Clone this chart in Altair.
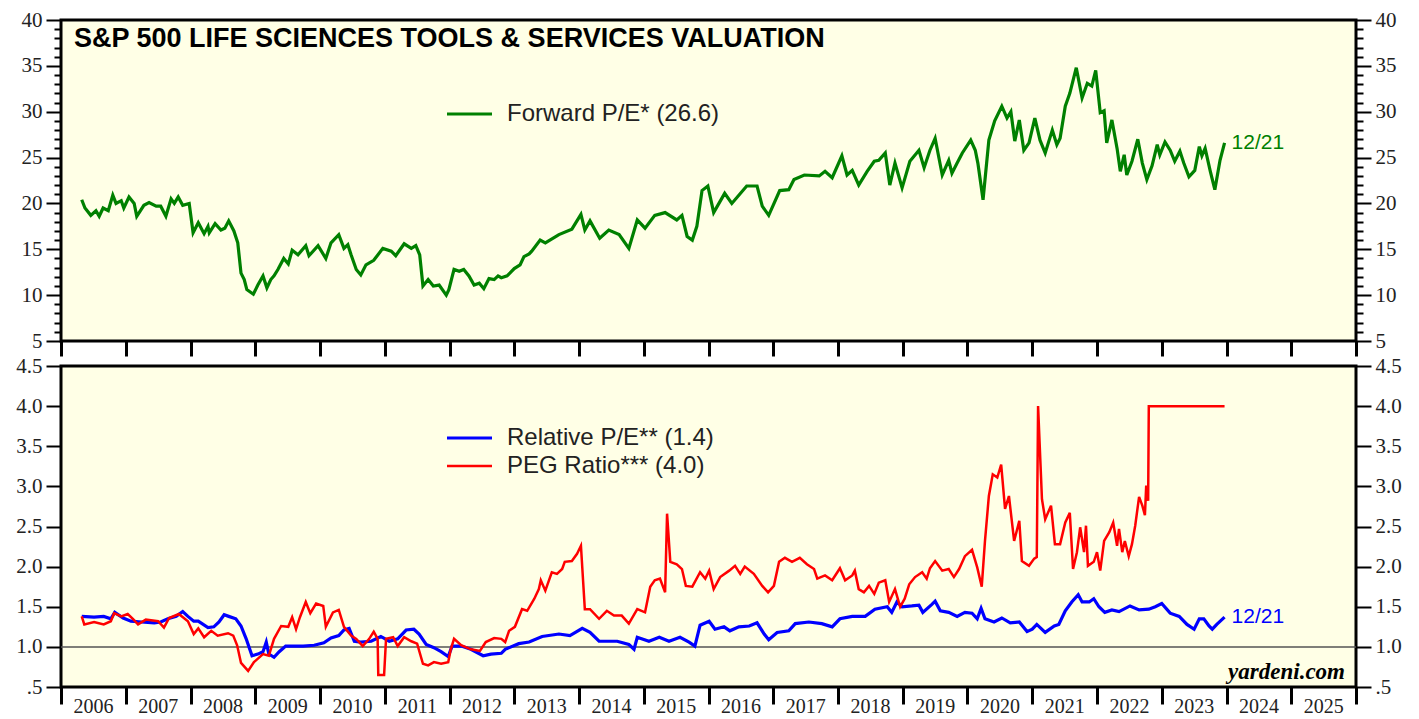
import altair as alt
import pandas as pd

# ---------------- data ----------------
fwd_year = [2006.32, 2006.37, 2006.46, 2006.54, 2006.59, 2006.65, 2006.73, 2006.80, 2006.85, 2006.93,
            2006.97, 2007.05, 2007.13, 2007.17, 2007.28, 2007.36, 2007.47, 2007.54, 2007.62, 2007.70,
            2007.75, 2007.81, 2007.88, 2007.98, 2008.04, 2008.12, 2008.21, 2008.27, 2008.29, 2008.38,
            2008.47, 2008.53, 2008.59, 2008.67, 2008.73, 2008.78, 2008.83, 2008.87, 2008.97, 2009.04,
            2009.12, 2009.18, 2009.24, 2009.29, 2009.35, 2009.44, 2009.51, 2009.57, 2009.66, 2009.78,
            2009.83, 2009.97, 2010.09, 2010.17, 2010.29, 2010.37, 2010.43, 2010.48, 2010.56, 2010.63,
            2010.71, 2010.83, 2010.97, 2011.10, 2011.17, 2011.30, 2011.41, 2011.48, 2011.54, 2011.59,
            2011.67, 2011.75, 2011.84, 2011.95, 2011.99, 2012.07, 2012.15, 2012.22, 2012.30, 2012.38,
            2012.46, 2012.53, 2012.61, 2012.69, 2012.75, 2012.80, 2012.89, 2013.00, 2013.09, 2013.15,
            2013.23, 2013.27, 2013.40, 2013.48, 2013.69, 2013.89, 2014.03, 2014.09, 2014.17, 2014.32,
            2014.46, 2014.62, 2014.77, 2014.90, 2015.02, 2015.17, 2015.33, 2015.51, 2015.59, 2015.67,
            2015.75, 2015.82, 2015.90, 2015.99, 2016.08, 2016.25, 2016.36, 2016.59, 2016.75, 2016.83,
            2016.93, 2017.10, 2017.24, 2017.32, 2017.48, 2017.71, 2017.80, 2017.91, 2018.06, 2018.14,
            2018.22, 2018.32, 2018.45, 2018.56, 2018.63, 2018.73, 2018.80, 2018.88, 2018.99, 2019.11,
            2019.25, 2019.33, 2019.42, 2019.50, 2019.61, 2019.71, 2019.76, 2019.84, 2019.92, 2020.05,
            2020.12, 2020.16, 2020.24, 2020.33, 2020.42, 2020.53, 2020.61, 2020.67, 2020.73, 2020.80,
            2020.87, 2020.95, 2021.04, 2021.12, 2021.20, 2021.31, 2021.38, 2021.43, 2021.51, 2021.58,
            2021.68, 2021.77, 2021.85, 2021.92, 2021.98, 2022.05, 2022.11, 2022.15, 2022.23, 2022.31,
            2022.36, 2022.42, 2022.46, 2022.54, 2022.63, 2022.70, 2022.77, 2022.85, 2022.93, 2022.97,
            2023.05, 2023.13, 2023.20, 2023.28, 2023.34, 2023.42, 2023.51, 2023.58, 2023.62, 2023.67,
            2023.75, 2023.82, 2023.90, 2023.97]
fwd_pe = [20.4, 19.5, 18.7, 19.2, 18.6, 19.5, 19.2, 20.9, 20.0, 20.3,
          19.5, 20.7, 20.0, 18.6, 19.8, 20.1, 19.7, 19.7, 18.6, 20.5,
          20.0, 20.7, 19.8, 20.0, 16.8, 17.9, 16.7, 17.5, 16.8, 17.8,
          17.1, 17.3, 18.1, 17.0, 15.7, 12.4, 11.7, 10.6, 10.1, 11.1,
          12.1, 10.8, 11.7, 12.1, 12.8, 14.0, 13.4, 14.9, 14.4, 15.4,
          14.3, 15.4, 14.0, 15.7, 16.6, 15.1, 15.5, 14.4, 12.8, 12.2,
          13.3, 13.8, 15.1, 14.8, 14.3, 15.6, 15.1, 15.4, 14.4, 11.0,
          11.7, 11.0, 11.1, 10.0, 10.6, 12.8, 12.6, 12.8, 12.1, 11.1,
          11.3, 10.7, 11.8, 11.7, 12.1, 11.9, 12.1, 12.9, 13.3, 14.2,
          14.5, 14.8, 16.0, 15.7, 16.6, 17.2, 18.8, 17.1, 18.1, 16.2,
          17.1, 16.6, 15.1, 18.2, 17.3, 18.7, 19.0, 18.2, 18.7, 16.4,
          16.0, 17.5, 21.4, 21.9, 19.0, 21.1, 20.0, 21.9, 21.9, 19.7,
          18.7, 21.4, 21.5, 22.6, 23.1, 23.0, 23.5, 22.8, 25.2, 23.1,
          23.6, 22.0, 23.5, 24.6, 24.7, 25.5, 22.0, 24.4, 21.7, 24.6,
          25.8, 23.9, 25.8, 27.1, 23.1, 24.7, 23.3, 24.4, 25.5, 26.9,
          25.8, 24.4, 20.4, 26.9, 29.0, 30.6, 29.3, 30.0, 26.8, 29.1,
          25.8, 26.6, 29.3, 26.9, 25.5, 28.0, 26.4, 27.1, 30.6, 32.0,
          34.8, 31.5, 33.1, 32.8, 34.5, 29.9, 30.1, 26.6, 29.1, 26.0,
          23.5, 25.3, 23.1, 24.6, 27.0, 24.4, 22.6, 24.1, 26.4, 25.3,
          26.7, 25.8, 24.6, 25.7, 24.4, 22.9, 23.6, 26.2, 25.2, 26.0,
          23.5, 21.5, 24.7, 26.6]

rel_year = [2006.32, 2006.51, 2006.66, 2006.77, 2006.83, 2006.96, 2007.08, 2007.24, 2007.44, 2007.54,
            2007.65, 2007.78, 2007.88, 2007.96, 2008.05, 2008.12, 2008.27, 2008.36, 2008.44, 2008.52,
            2008.59, 2008.70, 2008.78, 2008.86, 2008.95, 2009.04, 2009.12, 2009.17, 2009.21, 2009.29,
            2009.37, 2009.47, 2009.60, 2009.74, 2009.91, 2010.06, 2010.17, 2010.29, 2010.37, 2010.45,
            2010.53, 2010.63, 2010.79, 2010.94, 2011.07, 2011.20, 2011.33, 2011.45, 2011.53, 2011.64,
            2011.76, 2011.87, 2011.98, 2012.04, 2012.18, 2012.33, 2012.52, 2012.64, 2012.80, 2012.86,
            2013.07, 2013.23, 2013.43, 2013.69, 2013.86, 2014.05, 2014.17, 2014.31, 2014.43, 2014.59,
            2014.77, 2014.85, 2014.90, 2015.08, 2015.24, 2015.39, 2015.56, 2015.70, 2015.79, 2015.87,
            2016.01, 2016.10, 2016.24, 2016.33, 2016.47, 2016.63, 2016.75, 2016.86, 2016.93, 2017.06,
            2017.24, 2017.34, 2017.55, 2017.75, 2017.91, 2018.03, 2018.22, 2018.42, 2018.57, 2018.76,
            2018.83, 2018.91, 2018.99, 2019.14, 2019.25, 2019.31, 2019.45, 2019.50, 2019.58, 2019.71,
            2019.84, 2019.96, 2020.07, 2020.15, 2020.21, 2020.27, 2020.41, 2020.53, 2020.66, 2020.80,
            2020.92, 2021.00, 2021.07, 2021.20, 2021.34, 2021.41, 2021.51, 2021.61, 2021.71, 2021.77,
            2021.88, 2021.95, 2022.03, 2022.12, 2022.23, 2022.34, 2022.51, 2022.65, 2022.80, 2022.90,
            2023.00, 2023.13, 2023.27, 2023.39, 2023.50, 2023.58, 2023.65, 2023.73, 2023.78, 2023.85,
            2023.97]
rel_pe = [1.38, 1.37, 1.38, 1.35, 1.43, 1.36, 1.32, 1.31, 1.30, 1.31,
          1.35, 1.38, 1.44, 1.38, 1.32, 1.32, 1.24, 1.25, 1.31, 1.40,
          1.38, 1.35, 1.26, 1.10, 0.89, 0.91, 0.94, 1.06, 0.91, 0.87,
          0.94, 1.01, 1.01, 1.01, 1.02, 1.05, 1.11, 1.14, 1.21, 1.23,
          1.07, 1.06, 1.07, 1.13, 1.07, 1.10, 1.21, 1.22, 1.16, 1.03,
          0.99, 0.94, 0.88, 1.01, 1.01, 0.97, 0.89, 0.91, 0.92, 0.97,
          1.04, 1.06, 1.13, 1.16, 1.14, 1.23, 1.18, 1.07, 1.07, 1.07,
          1.03, 0.97, 1.12, 1.07, 1.12, 1.07, 1.12, 1.06, 1.01, 1.27,
          1.32, 1.22, 1.25, 1.20, 1.25, 1.26, 1.30, 1.16, 1.09, 1.18,
          1.20, 1.29, 1.31, 1.29, 1.25, 1.35, 1.38, 1.38, 1.47, 1.50,
          1.43, 1.56, 1.50, 1.51, 1.52, 1.43, 1.53, 1.57, 1.45, 1.43,
          1.38, 1.43, 1.42, 1.35, 1.48, 1.35, 1.31, 1.36, 1.30, 1.31,
          1.19, 1.22, 1.28, 1.18, 1.26, 1.28, 1.45, 1.56, 1.65, 1.56,
          1.56, 1.60, 1.50, 1.43, 1.46, 1.44, 1.51, 1.46, 1.47, 1.50,
          1.54, 1.42, 1.38, 1.28, 1.22, 1.35, 1.35, 1.26, 1.22, 1.28,
          1.37]

peg_year = [2006.32, 2006.36, 2006.51, 2006.66, 2006.77, 2006.82, 2006.93, 2007.03, 2007.11, 2007.19,
            2007.31, 2007.50, 2007.59, 2007.67, 2007.82, 2007.96, 2008.05, 2008.12, 2008.21, 2008.32,
            2008.42, 2008.58, 2008.66, 2008.72, 2008.78, 2008.89, 2008.98, 2009.12, 2009.21, 2009.29,
            2009.40, 2009.51, 2009.57, 2009.63, 2009.69, 2009.78, 2009.85, 2009.94, 2010.05, 2010.09,
            2010.20, 2010.29, 2010.37, 2010.48, 2010.56, 2010.66, 2010.76, 2010.83, 2010.89, 2010.90,
            2010.99, 2011.02, 2011.13, 2011.20, 2011.30, 2011.41, 2011.50, 2011.59, 2011.67, 2011.76,
            2011.87, 2011.98, 2012.02, 2012.07, 2012.18, 2012.33, 2012.47, 2012.56, 2012.69, 2012.80,
            2012.86, 2012.92, 2013.01, 2013.12, 2013.20, 2013.31, 2013.38, 2013.41, 2013.48, 2013.58,
            2013.66, 2013.74, 2013.78, 2013.89, 2013.97, 2014.03, 2014.09, 2014.17, 2014.31, 2014.43,
            2014.54, 2014.66, 2014.77, 2014.90, 2015.02, 2015.10, 2015.17, 2015.25, 2015.33, 2015.36,
            2015.41, 2015.51, 2015.59, 2015.65, 2015.75, 2015.87, 2015.95, 2016.01, 2016.08, 2016.18,
            2016.32, 2016.41, 2016.49, 2016.56, 2016.70, 2016.83, 2016.92, 2017.01, 2017.09, 2017.18,
            2017.29, 2017.41, 2017.52, 2017.63, 2017.68, 2017.80, 2017.91, 2018.03, 2018.11, 2018.22,
            2018.26, 2018.32, 2018.40, 2018.48, 2018.56, 2018.63, 2018.73, 2018.79, 2018.88, 2018.96,
            2019.03, 2019.10, 2019.19, 2019.30, 2019.37, 2019.42, 2019.50, 2019.61, 2019.71, 2019.79,
            2019.87, 2019.96, 2020.07, 2020.15, 2020.22, 2020.27, 2020.33, 2020.39, 2020.46, 2020.52,
            2020.58, 2020.64, 2020.72, 2020.80, 2020.84, 2020.95, 2021.03, 2021.07, 2021.09, 2021.15,
            2021.20, 2021.29, 2021.35, 2021.43, 2021.51, 2021.58, 2021.63, 2021.69, 2021.74, 2021.80,
            2021.83, 2021.86, 2021.95, 2022.00, 2022.05, 2022.11, 2022.19, 2022.25, 2022.31, 2022.34,
            2022.39, 2022.43, 2022.49, 2022.54, 2022.59, 2022.65, 2022.70, 2022.74, 2022.76, 2022.79,
            2022.80, 2023.97]
peg = [1.38, 1.28, 1.31, 1.28, 1.32, 1.42, 1.38, 1.41, 1.35, 1.28,
       1.34, 1.32, 1.24, 1.36, 1.41, 1.32, 1.16, 1.23, 1.12, 1.20,
       1.14, 1.17, 1.14, 1.02, 0.80, 0.70, 0.81, 0.91, 0.89, 1.10,
       1.26, 1.25, 1.37, 1.22, 1.37, 1.56, 1.42, 1.54, 1.51, 1.25,
       1.43, 1.46, 1.25, 1.14, 1.10, 1.01, 1.10, 1.19, 1.10, 0.65,
       0.65, 1.10, 1.12, 1.01, 1.12, 1.07, 1.04, 0.79, 0.77, 0.81,
       0.79, 0.81, 0.97, 1.10, 1.02, 0.97, 0.95, 1.06, 1.11, 1.10,
       1.06, 1.20, 1.25, 1.47, 1.45, 1.60, 1.72, 1.83, 1.70, 1.93,
       1.91, 1.97, 2.06, 2.07, 2.16, 2.26, 1.47, 1.47, 1.35, 1.45,
       1.39, 1.39, 1.29, 1.47, 1.43, 1.75, 1.83, 1.85, 1.68, 2.66,
       2.06, 2.03, 1.97, 1.76, 1.75, 1.93, 1.85, 1.95, 1.72, 1.87,
       1.95, 2.01, 1.91, 2.00, 1.91, 1.76, 1.68, 1.76, 2.06, 2.11,
       2.06, 2.11, 2.03, 1.97, 1.85, 1.89, 1.83, 1.98, 1.83, 1.89,
       1.95, 1.72, 1.68, 1.76, 1.66, 1.80, 1.83, 1.56, 1.72, 1.50,
       1.60, 1.78, 1.87, 1.93, 1.85, 1.98, 2.07, 1.95, 1.97, 1.87,
       1.97, 2.13, 2.21, 1.99, 1.75, 2.32, 2.88, 3.15, 3.11, 3.27,
       2.72, 2.88, 2.32, 2.57, 2.07, 2.01, 2.10, 2.12, 4.00, 2.84,
       2.59, 2.76, 2.28, 2.28, 2.55, 2.67, 1.97, 2.18, 2.49, 2.18,
       2.51, 2.01, 2.06, 2.18, 1.95, 2.32, 2.43, 2.55, 2.26, 2.47,
       2.18, 2.32, 2.13, 2.28, 2.51, 2.87, 2.76, 2.64, 3.01, 2.82,
       4.00, 4.00]

TITLE = ["S&P 500 LIFE SCIENCES TOOLS & SERVICES VALUATION"]
LEGEND_TOP = ["Forward P/E* (26.6)"]
LEGEND_BOTTOM = ["Relative P/E** (1.4)", "PEG Ratio*** (4.0)"]
LAST_DATE = "12/21"
SOURCE = ["yardeni.com"]
YEARS = list(range(2006, 2027))
TOP_TICKS = list(range(5, 41))
BOTTOM_TICKS = [0.5, 1.0, 1.5, 2.0, 2.5, 3.0, 3.5, 4.0, 4.5]
REF_LEVEL = [1.0]

GREEN, BLUE, RED = "#008000", "#0000FF", "#FF0000"
SERIF, SANS = "Liberation Serif", "Liberation Sans"
W, H = 1295, 321

fwd_df = pd.DataFrame({"year": fwd_year, "value": fwd_pe})
rel_df = pd.DataFrame({"year": rel_year, "value": rel_pe})
peg_df = pd.DataFrame({"year": peg_year, "value": peg})
fwd_last = fwd_df.tail(1).assign(label=LAST_DATE)
rel_last = rel_df.tail(1).assign(label=LAST_DATE)
ref_df = pd.DataFrame({"value": REF_LEVEL})

xscale = alt.Scale(domain=[2006, 2026], nice=False, zero=False)
x_top = alt.X("year:Q", scale=xscale, title=None,
              axis=alt.Axis(values=YEARS, labels=False, tickSize=15, tickWidth=3,
                            tickColor="black", domain=False, grid=False))
x_bot = alt.X("year:Q", scale=xscale, title=None,
              axis=alt.Axis(values=YEARS, format="d",
                            labelExpr="datum.value >= 2026 ? '' : format(datum.value, 'd')",
                            labelOffset=32, labelPadding=-8, tickSize=17, tickWidth=3,
                            tickColor="black", domain=False, grid=False,
                            labelFont=SERIF, labelFontSize=20, labelColor="#222",
                            labelFlush=False, labelOverlap=False, labelBound=False))


def y_axis_top(orient):
    extra = {"minExtent": 51, "maxExtent": 51} if orient == "left" else {}
    return alt.Axis(orient=orient, values=TOP_TICKS,
                    labelExpr="datum.value % 5 == 0 ? format(datum.value, 'd') : ''",
                    tickSize=alt.condition("datum.value % 5 == 0", alt.value(15), alt.value(7)),
                    tickWidth=2, tickColor="black", domain=False, grid=False,
                    labelFont=SERIF, labelFontSize=21, labelColor="#222", labelPadding=4,
                    labelFlush=False, labelOverlap=False, labelBound=False, **extra)


def y_axis_bot(orient):
    extra = {"minExtent": 51, "maxExtent": 51} if orient == "left" else {}
    return alt.Axis(orient=orient, values=BOTTOM_TICKS,
                    labelExpr="datum.value == 0.5 ? '.5' : format(datum.value, '.1f')",
                    tickSize=15, tickWidth=2, tickColor="black", domain=False, grid=False,
                    labelFont=SERIF, labelFontSize=21, labelColor="#222", labelPadding=4,
                    labelFlush=False, labelOverlap=False, labelBound=False, **extra)


ys_top = alt.Scale(domain=[5, 40], nice=False, zero=False)
ys_bot = alt.Scale(domain=[0.5, 4.5], nice=False, zero=False)

# ---------------- top panel ----------------
top_line = alt.Chart(fwd_df).mark_line(color=GREEN, strokeWidth=3.2).encode(
    x=x_top, y=alt.Y("value:Q", scale=ys_top, title=None, axis=y_axis_top("left")))
top_label = alt.Chart(fwd_last).mark_text(align="left", baseline="middle", dx=7, font=SANS,
                                          fontSize=21, color=GREEN).encode(
    x=x_top, y=alt.Y("value:Q", scale=ys_top, title=None, axis=y_axis_top("right")),
    text="label:N")
title = alt.Chart(pd.DataFrame({"t": TITLE})).mark_text(
    align="left", baseline="middle", font=SANS, fontSize=27, fontWeight="bold", color="black").encode(
    x=alt.value(13), y=alt.value(19), text="t:N")
leg_top_rule = alt.Chart(pd.DataFrame({"t": LEGEND_TOP})).mark_rule(color=GREEN, strokeWidth=3).encode(
    x=alt.value(386), x2=alt.value(431), y=alt.value(94))
leg_top_text = alt.Chart(pd.DataFrame({"t": LEGEND_TOP})).mark_text(
    align="left", baseline="middle", font=SANS, fontSize=24, color="#222").encode(
    x=alt.value(446), y=alt.value(94), text="t:N")

top = alt.layer(top_line, top_label, title, leg_top_rule, leg_top_text).resolve_scale(
    y="independent").properties(width=W, height=H)

# ---------------- bottom panel ----------------
y_bl = alt.Y("value:Q", scale=ys_bot, title=None, axis=y_axis_bot("left"))
ref_rule = alt.Chart(ref_df).mark_rule(color="#555555", strokeWidth=1.5).encode(y=y_bl)
blue_line = alt.Chart(rel_df).mark_line(color=BLUE, strokeWidth=3.2).encode(x=x_bot, y=y_bl)
red_line = alt.Chart(peg_df).mark_line(color=RED, strokeWidth=2.5).encode(x=x_bot, y=y_bl)
inner = alt.layer(ref_rule, blue_line, red_line)

bot_label = alt.Chart(rel_last).mark_text(align="left", baseline="middle", dx=7, font=SANS,
                                          fontSize=21, color=BLUE).encode(
    x=x_bot, y=alt.Y("value:Q", scale=ys_bot, title=None, axis=y_axis_bot("right")),
    text="label:N")
leg_b1_rule = alt.Chart(pd.DataFrame({"t": LEGEND_BOTTOM[:1]})).mark_rule(color=BLUE, strokeWidth=3).encode(
    x=alt.value(386), x2=alt.value(431), y=alt.value(72))
leg_b1_text = alt.Chart(pd.DataFrame({"t": LEGEND_BOTTOM[:1]})).mark_text(
    align="left", baseline="middle", font=SANS, fontSize=24, color="#222").encode(
    x=alt.value(446), y=alt.value(72), text="t:N")
leg_b2_rule = alt.Chart(pd.DataFrame({"t": LEGEND_BOTTOM[1:]})).mark_rule(color=RED, strokeWidth=2.5).encode(
    x=alt.value(386), x2=alt.value(431), y=alt.value(100))
leg_b2_text = alt.Chart(pd.DataFrame({"t": LEGEND_BOTTOM[1:]})).mark_text(
    align="left", baseline="middle", font=SANS, fontSize=24, color="#222").encode(
    x=alt.value(446), y=alt.value(100), text="t:N")
source = alt.Chart(pd.DataFrame({"t": SOURCE})).mark_text(
    align="right", baseline="alphabetic", font=SERIF, fontSize=23, fontWeight="bold",
    fontStyle="italic", color="black").encode(x=alt.value(1284), y=alt.value(313), text="t:N")

bottom = alt.layer(inner, bot_label, leg_b1_rule, leg_b1_text, leg_b2_rule, leg_b2_text,
                   source).resolve_scale(y="independent").properties(width=W, height=H)

chart = alt.vconcat(top, bottom, spacing=-6).properties(
    padding={"left": 0, "top": -1, "right": 5, "bottom": 0}
).configure_view(stroke="black", strokeWidth=3, fill="#FFFFE6")

chart.save("out.html", embed_options={"renderer": "svg", "actions": False})
